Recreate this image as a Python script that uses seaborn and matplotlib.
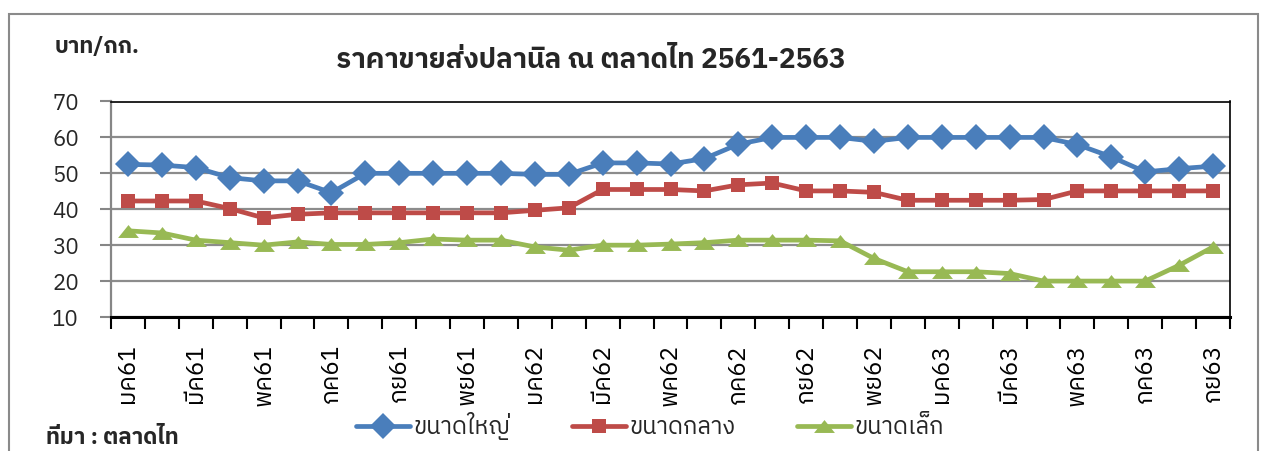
import matplotlib
matplotlib.use("Agg")
import numpy as np
import pandas as pd
import seaborn as sns
import matplotlib.pyplot as plt
from matplotlib.patches import Rectangle
from matplotlib.ticker import FixedLocator

# ---------------- data ----------------
months = ['มค61', 'กพ61', 'มีค61', 'เมย61', 'พค61', 'มิย61', 'กค61', 'สค61', 'กย61', 'ตค61', 'พย61', 'ธค61',
          'มค62', 'กพ62', 'มีค62', 'เมย62', 'พค62', 'มิย62', 'กค62', 'สค62', 'กย62', 'ตค62', 'พย62', 'ธค62',
          'มค63', 'กพ63', 'มีค63', 'เมย63', 'พค63', 'มิย63', 'กค63', 'สค63', 'กย63']
large = [52.5, 52.3, 51.6, 48.8, 47.9, 47.9, 44.6, 50.0, 50.0, 50.0, 50.0, 50.0, 49.7, 49.7, 52.9, 52.9,
         52.6, 54.1, 58.1, 60.0, 60.0, 60.0, 58.9, 60.0, 60.0, 60.0, 60.0, 60.0, 58.0, 54.6, 50.4, 51.3, 52.0]
medium = [42.3, 42.3, 42.3, 40.2, 37.6, 38.6, 39.0, 39.0, 39.0, 39.0, 39.0, 39.0, 39.7, 40.4, 45.5, 45.5,
          45.5, 45.1, 46.8, 47.3, 45.1, 45.1, 44.7, 42.5, 42.5, 42.5, 42.5, 42.7, 45.1, 45.1, 45.1, 45.1, 45.1]
small = [34.0, 33.4, 31.4, 30.7, 30.0, 30.9, 30.2, 30.2, 30.7, 31.7, 31.4, 31.4, 29.5, 28.6, 30.0, 30.0,
         30.3, 30.7, 31.4, 31.4, 31.4, 31.2, 26.3, 22.6, 22.6, 22.6, 22.1, 20.0, 20.0, 20.0, 20.0, 24.4, 29.5]
series_names = ['ขนาดใหญ่', 'ขนาดกลาง', 'ขนาดเล็ก']
yticks = [10, 20, 30, 40, 50, 60, 70]

title = 'ราคาขายส่งปลานิล ณ ตลาดไท 2561-2563'
unit = 'บาท/กก.'
source = 'ที่มา : ตลาดไท'

# ---------------- style ----------------
sns.set_theme(style='white')
FONT = ['IBM Plex Sans Thai', 'Noto Sans Thai', 'DejaVu Sans']
plt.rcParams['font.family'] = FONT

colors = {'ขนาดใหญ่': '#4A7EBB', 'ขนาดกลาง': '#BE4B48', 'ขนาดเล็ก': '#98B954'}
tri = [(-1.0, -0.62), (1.0, -0.62), (0.0, 0.62)]
markers = {'ขนาดใหญ่': 'D', 'ขนาดกลาง': 's', 'ขนาดเล็ก': tri}
msizes = {'ขนาดใหญ่': 13, 'ขนาดกลาง': 10.5, 'ขนาดเล็ก': 15}

df = pd.DataFrame({
    'idx': list(range(len(months))) * 3,
    'price': large + medium + small,
    'series': [series_names[0]] * len(months) + [series_names[1]] * len(months) + [series_names[2]] * len(months),
})

W, H = 1268, 451
fig = plt.figure(figsize=(W / 100, H / 100), dpi=100)
ax = fig.add_axes([111 / W, 1 - 317 / H, (1230 - 111) / W, (317 - 101.5) / H])

for name in series_names:
    sub = df[df['series'] == name]
    sns.lineplot(data=sub, x='idx', y='price', ax=ax, color=colors[name], lw=3.4,
                 marker=markers[name], markersize=msizes[name], markeredgewidth=0,
                 markerfacecolor=colors[name], label=name, legend=False, zorder=3)

ax.set_xlim(-0.5, len(months) - 0.5)
ax.set_ylim(10, 70)
ax.set_yticks(yticks)
ax.set_yticklabels([str(v) for v in yticks], fontsize=16)
ax.set_xlabel('')
ax.set_ylabel('')

shown = list(range(0, len(months), 2))
ax.xaxis.set_major_locator(FixedLocator(shown))
ax.set_xticklabels([months[i] for i in shown], rotation=90, fontsize=17.5)
ax.xaxis.set_minor_locator(FixedLocator(np.arange(-0.5, len(months), 1.0)))
ax.tick_params(axis='x', which='major', length=0, pad=19.5, colors='black')
ax.tick_params(axis='x', which='minor', length=8.5, width=1.5, color='black', direction='out', bottom=True)
ax.tick_params(axis='y', which='major', length=8, width=1.5, color='#868686', direction='out', left=True, pad=15)

ax.yaxis.grid(True, color='#8C8C8C', lw=1.6)
ax.xaxis.grid(False)
ax.set_axisbelow(True)
ax.spines['left'].set_color('#868686')
ax.spines['left'].set_linewidth(1.6)
ax.spines['bottom'].set_color('black')
ax.spines['bottom'].set_linewidth(2.2)
ax.spines['top'].set_color('black')
ax.spines['top'].set_linewidth(1.2)
ax.spines['right'].set_color('black')
ax.spines['right'].set_linewidth(1.2)

# legend
handles = [plt.Line2D([], [], color=colors[n], lw=3.4, marker=markers[n], markersize=msizes[n],
                      markeredgewidth=0) for n in series_names]
fig.legend(handles, series_names, loc='center', bbox_to_anchor=(650 / W, 1 - 426 / H), ncol=3,
           frameon=False, fontsize=17, handlelength=2.3, handletextpad=0.15, columnspacing=2.6)

# texts
fig.text(591 / W, 1 - 60 / H, title, ha='center', va='center', fontsize=20, fontweight='bold')
fig.text(55 / W, 1 - 47 / H, unit, ha='left', va='center', fontsize=16, fontweight='bold')
fig.text(46 / W, 1 - 437 / H, source, ha='left', va='center', fontsize=16, fontweight='bold')

# outer chart frame
fig.patches.append(Rectangle((9 / W, -0.2), (1258 - 9) / W, 1.2 - 14 / H, transform=fig.transFigure,
                             fill=False, edgecolor='#8A8A8A', lw=1.5))

fig.savefig('out.png', dpi=100)
